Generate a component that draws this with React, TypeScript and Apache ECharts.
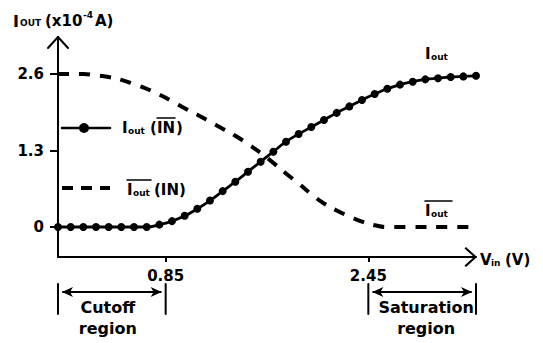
import { useEffect, useRef } from "react";
import * as echarts from "echarts";

const vin = [0.0, 0.1, 0.2, 0.3, 0.4, 0.5, 0.6, 0.7, 0.8, 0.9, 1.0, 1.1, 1.2, 1.3, 1.4, 1.5, 1.6, 1.7, 1.8, 1.9, 2.0, 2.1, 2.2, 2.3, 2.4, 2.5, 2.6, 2.7, 2.8, 2.9, 3.0, 3.1, 3.2, 3.3];
const iout = [0, 0, 0, 0, 0, 0, 0, 0, 0.04, 0.1, 0.19, 0.31, 0.45, 0.61, 0.77, 0.94, 1.11, 1.28, 1.45, 1.58, 1.7, 1.82, 1.94, 2.05, 2.16, 2.26, 2.35, 2.42, 2.47, 2.51, 2.53, 2.55, 2.56, 2.57];
const ioutBar = [2.6, 2.6, 2.6, 2.58, 2.55, 2.5, 2.43, 2.35, 2.25, 2.14, 2.02, 1.91, 1.79, 1.67, 1.55, 1.41, 1.26, 1.09, 0.91, 0.74, 0.56, 0.4, 0.28, 0.18, 0.09, 0.03, 0, 0, 0, 0, 0, 0, 0, 0];
const yTicks = [0, 1.3, 2.6];
const yTickLabels = ["0", "1.3", "2.6"];
const xTicks = [0.85, 2.45];
const xTickLabels = ["0.85", "2.45"];
const regionBounds = [[0, 0.85], [2.45, 3.3]];
const regionNames = [["Cutoff", "region"], ["Saturation", "region"]];

const FONT = "DejaVu Sans";

export default function App() {
  const ref = useRef<HTMLDivElement>(null);
  useEffect(() => {
    if (!ref.current) return;
    const chart = echarts.init(ref.current, undefined, { renderer: "svg" });
    chart.setOption({
      animation: false,
      backgroundColor: "#fff",
      grid: { left: 58, right: 67, top: 37, bottom: 86 },
      xAxis: {
        type: "value",
        min: 0,
        max: 3.3,
        axisLine: { onZero: false, lineStyle: { color: "#000", width: 2 } },
        axisTick: { show: true, customValues: xTicks, length: 5, lineStyle: { color: "#000", width: 2 } },
        axisLabel: {
          customValues: xTicks,
          formatter: (v: number) => xTickLabels[xTicks.indexOf(v)] ?? "",
          color: "#000",
          fontFamily: FONT,
          fontWeight: "bold",
          fontSize: 15,
          margin: 11,
        },
        splitLine: { show: false },
      },
      yAxis: {
        type: "value",
        min: -0.51,
        max: 3.23,
        axisLine: { show: true, onZero: false, lineStyle: { color: "#000", width: 2 } },
        axisTick: { show: true, customValues: yTicks, length: 8, lineStyle: { color: "#000", width: 2 } },
        axisLabel: {
          customValues: yTicks,
          formatter: (v: number) => yTickLabels[yTicks.indexOf(v)] ?? "",
          color: "#000",
          fontFamily: FONT,
          fontWeight: "bold",
          fontSize: 15,
          margin: 14,
        },
        splitLine: { show: false },
      },
      series: [
        {
          name: "Iout (IN̄)",
          type: "line",
          data: vin.map((v, i) => [v, iout[i]]),
          smooth: true,
          symbol: "circle",
          symbolSize: 8,
          showSymbol: true,
          lineStyle: { color: "#000", width: 2.8 },
          itemStyle: { color: "#000" },
          z: 3,
        },
        {
          name: "Īout (IN)",
          type: "line",
          data: vin.map((v, i) => [v, ioutBar[i]]),
          smooth: true,
          showSymbol: false,
          lineStyle: { color: "#000", width: 4, type: [11, 10] },
          z: 2,
        },
      ],
    });

    const px = (x: number, y: number) => chart.convertToPixel({ gridIndex: 0 }, [x, y]) as number[];
    const top = px(0, 3.23);
    const right = px(3.3, -0.51);
    const rx = right[0];
    const ry = right[1];
    const ln = (x1: number, y1: number, x2: number, y2: number, w = 2) => ({
      type: "line",
      z: 100,
      shape: { x1, y1, x2, y2 },
      style: { stroke: "#000", lineWidth: w, lineCap: "round" },
    });
    const txt = (text: string, x: number, y: number, size: number, align = "left", va = "middle") => ({
      type: "text",
      z: 100,
      style: {
        text,
        x,
        y,
        fill: "#000",
        fontFamily: FONT,
        fontWeight: "bold",
        fontSize: size,
        textAlign: align,
        textVerticalAlign: va,
      },
    });
    const g: any[] = [];
    // axis arrows
    g.push(ln(top[0] - 10, top[1] + 11, top[0], top[1]));
    g.push(ln(top[0] + 10, top[1] + 11, top[0], top[1]));
    g.push({
      type: "polygon",
      z: 100,
      shape: { points: [[rx - 10, ry - 10], [rx + 1, ry], [rx - 10, ry + 10], [rx - 11.5, ry + 8.5], [rx - 2, ry], [rx - 11.5, ry - 8.5]] },
      style: { fill: "#000" },
    });
    // axis titles
    g.push(txt("I", 13, 21, 16));
    g.push(txt("OUT", 20, 23, 9));
    g.push(txt("(x10", 45, 21, 15));
    g.push(txt("-4", 83, 15, 9));
    g.push(txt("A)", 95, 21, 15));
    g.push(txt("V", rx + 4, ry + 3, 15));
    g.push(txt("in", rx + 15, ry + 6, 9));
    g.push(txt("(V)", rx + 29, ry + 3, 15));
    // legend
    g.push(ln(62, 128, 110, 128, 2.5));
    g.push({ type: "circle", z: 100, shape: { cx: 84, cy: 128, r: 5 }, style: { fill: "#000" } });
    g.push(txt("I", 122, 128, 15));
    g.push(txt("out", 128, 131, 9));
    g.push(txt("(", 150, 128, 15));
    g.push(txt("IN", 157, 128, 15));
    g.push(txt(")", 176, 128, 15));
    g.push(ln(157, 118, 175, 118, 1.5));
    g.push({ type: "line", z: 100, shape: { x1: 62, y1: 188, x2: 110, y2: 188 }, style: { stroke: "#000", lineWidth: 4, lineDash: [11, 8] } });
    g.push(txt("I", 127, 190, 15));
    g.push(txt("out", 133, 193, 9));
    g.push(txt("(IN)", 154, 190, 15));
    g.push(ln(127, 180, 151, 180, 1.5));
    // curve labels
    g.push(txt("I", 425, 54, 15));
    g.push(txt("out", 431, 57, 9));
    g.push(txt("I", 425, 211, 15));
    g.push(txt("out", 431, 214, 9));
    g.push(ln(425, 201, 452, 201, 1.5));
    // region annotations
    regionBounds.forEach((b, k) => {
      const xa = px(b[0], 0)[0];
      const xb = px(b[1], 0)[0];
      const ay = 292;
      g.push(ln(xa, 284, xa, 314));
      g.push(ln(xb, 284, xb, 314));
      g.push(ln(xa + 5, ay, xb - 5, ay));
      g.push({ type: "polygon", z: 100, shape: { points: [[xa + 4, ay], [xa + 15, ay - 5], [xa + 12, ay], [xa + 15, ay + 5]] }, style: { fill: "#000" } });
      g.push({ type: "polygon", z: 100, shape: { points: [[xb - 4, ay], [xb - 15, ay - 5], [xb - 12, ay], [xb - 15, ay + 5]] }, style: { fill: "#000" } });
      const cx = (xa + xb) / 2 + (k === 0 ? -4 : 4);
      g.push(txt(regionNames[k][0], cx, 307, 16, "center"));
      g.push(txt(regionNames[k][1], cx, 328, 16, "center"));
    });
    chart.setOption({ graphic: g });
    return () => chart.dispose();
  }, []);
  return <div ref={ref} style={{ width: 543, height: 343, position: "absolute", left: 0, top: 0 }} />;
}
